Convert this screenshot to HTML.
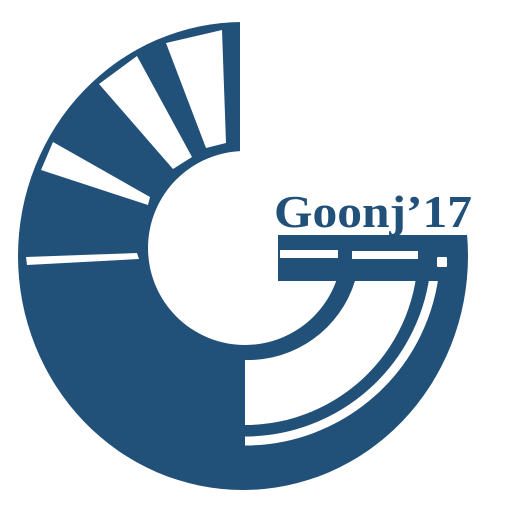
<!DOCTYPE html>
<html><head><meta charset="utf-8"><style>
html,body{margin:0;padding:0;background:#fff;width:512px;height:512px;overflow:hidden}
svg{display:block}
</style></head><body>
<svg width="512" height="512" viewBox="0 0 512 512">
  <ellipse cx="243" cy="256" rx="225" ry="234" fill="#215079"/>
  <rect x="240" y="0" width="272" height="235" fill="#fff"/>
  <circle cx="245" cy="248" r="97" fill="#fff"/>
  <path d="M355 250 L418 250 A173 173 0 0 1 245 425 L245 358 A110 110 0 0 0 355 250 Z" fill="#fff"/>
  <path d="M245 441 A191 191 0 0 0 435 268" fill="none" stroke="#fff" stroke-width="9"/>
  <path d="M338 281 A97 97 0 0 1 245 345 L245 360 A112 112 0 0 0 355 281 Z" fill="#215079"/>
  <rect x="278" y="235" width="186" height="46" fill="#215079"/>
  <rect x="280" y="250" width="58" height="8" fill="#fff"/>
  <rect x="352" y="251" width="66" height="8" fill="#fff"/>
  <rect x="437" y="257" width="10" height="10" rx="1" fill="#fff"/>
  <g fill="#fff">
    <polygon points="26,257 137,253 139,259 27,265"/>
    <polygon points="53,142 150,197 148,205 41,170"/>
    <polygon points="99,84 137,56 192,157 173,169"/>
    <polygon points="166,43 222,30 226,143 206,148"/>
  </g>
  <text x="274" y="227" font-family="Liberation Serif, serif" font-size="46" font-weight="bold" fill="#215079" textLength="198" lengthAdjust="spacingAndGlyphs">Goonj’17</text>
</svg>
</body></html>
